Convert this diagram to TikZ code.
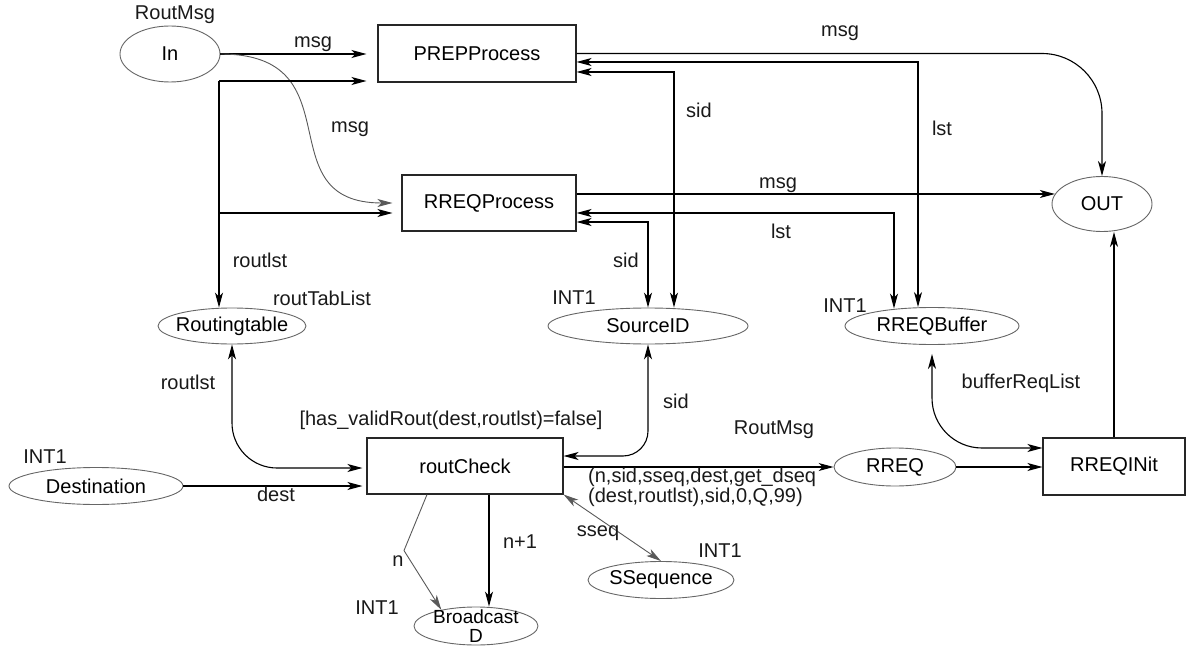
\documentclass[tikz,border=0pt]{standalone}
\usepackage{fontspec}
\setmainfont{Liberation Sans}
\usetikzlibrary{shapes.geometric,arrows.meta,calc}

\tikzset{
  trans/.style={draw=black!85, line width=1.1pt, rectangle, inner sep=0pt},
  place/.style={draw=black!60, line width=0.9pt, ellipse, inner sep=0pt},
  tight/.style={inner xsep=-12pt, inner ysep=-8pt},
  netarc/.style={draw=black, line width=1.1pt, ->},
  softarc/.style={draw=black!65, line width=0.9pt, ->},
  lbl/.style={inner sep=1pt, text=black!90},
}

\begin{document}
\begin{tikzpicture}[x=1pt, y=-1pt, font=\fontsize{20}{22}\selectfont,
  >={Stealth[length=15pt,width=8pt,inset=4pt]}]
  \useasboundingbox (0,0) rectangle (1188,647);

  % transitions
  \node[trans, minimum width=198, minimum height=57] (prep) at (477,53.5) {PREPProcess};
  \node[trans, minimum width=174, minimum height=56] (rreqp) at (489,203) {RREQProcess};
  \node[trans, minimum width=196, minimum height=56] (rc) at (465,466) {routCheck};
  \node[trans, minimum width=142, minimum height=57] (ri) at (1114,466.5) {RREQINit};

  % places
  \node[place, minimum width=100, minimum height=56] (in) at (170,54) {In};
  \node[place, minimum width=100, minimum height=55] (out) at (1102,204) {OUT};
  \node[place, tight, minimum width=148, minimum height=36] (rt) at (232,326) {Routingtable};
  \node[place, minimum width=200, minimum height=36] (src) at (648,326) {SourceID};
  \node[place, tight, minimum width=174, minimum height=37] (rb) at (932,326) {RREQBuffer};
  \node[place, minimum width=174, minimum height=37] (dest) at (96,486) {Destination};
  \node[place, minimum width=122, minimum height=38] (rq) at (895,467) {RREQ};
  \node[place, tight, minimum width=146, minimum height=37] (ss) at (661,580) {SSequence};
  \node[place, tight, minimum width=124, minimum height=38, align=center,
        font=\fontsize{19}{19.5}\selectfont] (bd) at (476,626) {Broadcast\\D};

  % colour sets and guard
  \node[lbl] (inty) at (175,15) {RoutMsg};
  \node[lbl] (rtty) at (322,298) {routTabList};
  \node[lbl] (srcty) at (574,298) {INT1};
  \node[lbl] (rbty) at (845,306) {INT1};
  \node[lbl] (destty) at (45,457) {INT1};
  \node[lbl] (bdty) at (377,608) {INT1};
  \node[lbl] (ssty) at (720,551) {INT1};
  \node[lbl] (rqty) at (774,430) {RoutMsg};
  \node[lbl] (guard) at (451,420) {[has\_validRout(dest,routlst)=false]};

  % In to the two processes
  \draw[netarc, shorten >=11pt] (in.east) -- (in.east -| prep.west);
  \draw[softarc, shorten >=9pt] (in.east) to[out=0, in=180, looseness=1.5] (rreqp.west);

  % routing table
  \coordinate (rtj) at (219,81);
  \draw[netarc, shorten >=11pt] (rtj) -- (rtj -| prep.west);
  \draw[netarc, shorten >=9pt] (rtj) |- ($(rreqp.west)+(0,10)$);
  \draw[netarc] (rtj) -- (rtj |- rt.north);
  \draw[netarc, <->, rounded corners=45pt, shorten >=4pt] (rt.south) |- ($(rc.west)+(0,2)$);

  % PREPProcess
  \draw[netarc, rounded corners=60pt] (prep.east) -| (out.north);
  \draw[netarc, <->] ($(prep.east)+(0,8.5)$) -| ($(rb.north)+(-14,0)$);
  \draw[netarc, <->] ($(prep.east)+(0,18.5)$) -| ($(src.north)+(26,0)$);

  % RREQProcess
  \draw[netarc] (rreqp.east |- out.168) -- (out.168);
  \draw[netarc, <->] ($(rreqp.east)+(0,10)$) -| ($(rb.north)+(-38,1.5)$);
  \draw[netarc, <->] ($(rreqp.east)+(0,19)$) -| (src.north);

  % routCheck
  \draw[netarc, shorten >=4pt] (dest.east) -- (dest.east -| rc.west);
  \draw[netarc, <->, rounded corners=25pt] (src.south) |- ($(rc.east)+(0,-10)$);
  \draw[netarc] (rc.east |- rq.west) -- (rq.west);
  \draw[softarc] ($(rc.south)+(-38,0)$) -- ++(-23,56) -- (bd.155);
  \draw[netarc] ($(rc.south)+(24,0)$) -- ($(bd.north)+(13,0)$);
  \draw[softarc, <->] (rc.south east) -- (ss.north);

  % RREQINit
  \draw[netarc] (rq.east) -- (rq.east -| ri.west);
  \draw[netarc, <->, rounded corners=50pt, shorten <=9pt] (rb.south) |- ($(ri.west)+(0,-18.5)$);
  \draw[netarc] (ri.north) -- (ri.north |- out.south);

  % arc inscriptions
  \node[lbl] (lmsga) at (313,44) {msg};
  \node[lbl] (lmsgb) at (350,129) {msg};
  \node[lbl] (lrla) at (260,260) {routlst};
  \node[lbl] (lmsgc) at (840,33) {msg};
  \node[lbl] (lsida) at (699,110) {sid};
  \node[lbl] (llsta) at (942,128) {lst};
  \node[lbl] (lmsgd) at (778,185) {msg};
  \node[lbl] (llstb) at (781,231) {lst};
  \node[lbl] (lsidb) at (626,260) {sid};
  \node[lbl] (lrlb) at (188,382) {routlst};
  \node[lbl] (lsidc) at (676,401) {sid};
  \node[lbl] (ldest) at (276,494) {dest};
  \node[lbl] (lbuf) at (1021,383) {bufferReqList};
  \node[lbl, align=left, anchor=west, font=\fontsize{20}{18}\selectfont] (lreq) at (587,487)
    {(n,sid,sseq,dest,get\_dseq\\(dest,routlst),sid,0,Q,99)};
  \node[lbl] (ln) at (398,561) {n};
  \node[lbl] (lnp) at (520,542) {n+1};
  \node[lbl] (lsseq) at (598,533) {sseq};
\end{tikzpicture}
\end{document}
